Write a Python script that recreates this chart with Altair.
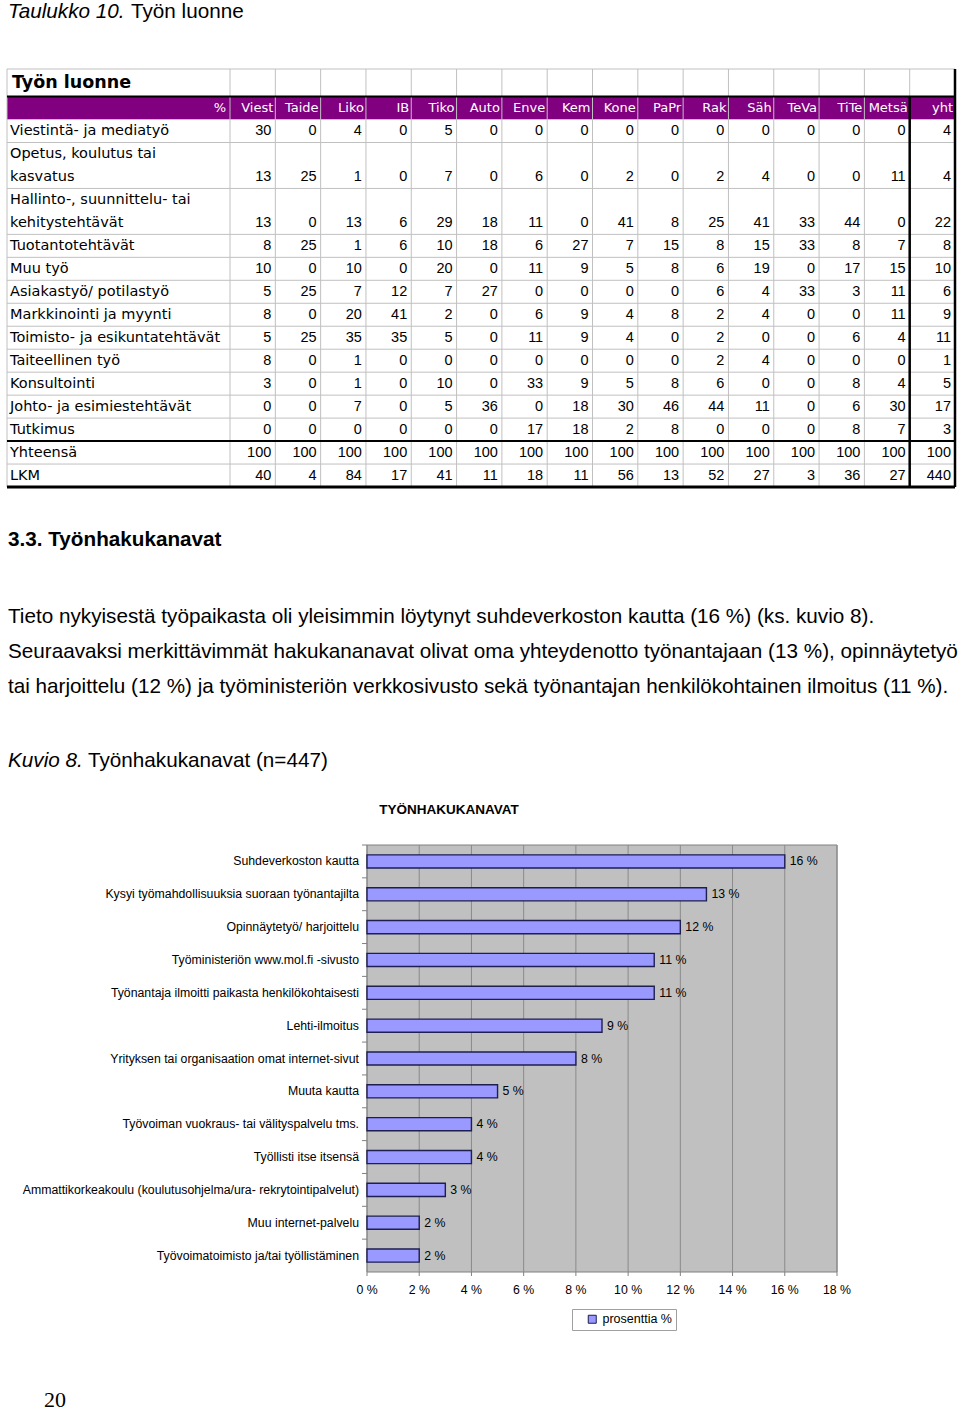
import altair as alt
import pandas as pd

# ------------------------------------------------------------------ data
# Table 10 "Työn luonne"
table_title = "Työn luonne"
table_corner = "%"
table_columns = ["Viest", "Taide", "Liko", "IB", "Tiko", "Auto", "Enve", "Kem",
                 "Kone", "PaPr", "Rak", "Säh", "TeVa", "TiTe", "Metsä", "yht"]
row_labels = [
    ["Viestintä- ja mediatyö"],
    ["Opetus, koulutus tai", "kasvatus"],
    ["Hallinto-, suunnittelu- tai", "kehitystehtävät"],
    ["Tuotantotehtävät"],
    ["Muu työ"],
    ["Asiakastyö/ potilastyö"],
    ["Markkinointi ja myynti"],
    ["Toimisto- ja esikuntatehtävät"],
    ["Taiteellinen työ"],
    ["Konsultointi"],
    ["Johto- ja esimiestehtävät"],
    ["Tutkimus"],
    ["Yhteensä"],
    ["LKM"],
]
row_values = [
    [30, 0, 4, 0, 5, 0, 0, 0, 0, 0, 0, 0, 0, 0, 0, 4],
    [13, 25, 1, 0, 7, 0, 6, 0, 2, 0, 2, 4, 0, 0, 11, 4],
    [13, 0, 13, 6, 29, 18, 11, 0, 41, 8, 25, 41, 33, 44, 0, 22],
    [8, 25, 1, 6, 10, 18, 6, 27, 7, 15, 8, 15, 33, 8, 7, 8],
    [10, 0, 10, 0, 20, 0, 11, 9, 5, 8, 6, 19, 0, 17, 15, 10],
    [5, 25, 7, 12, 7, 27, 0, 0, 0, 0, 6, 4, 33, 3, 11, 6],
    [8, 0, 20, 41, 2, 0, 6, 9, 4, 8, 2, 4, 0, 0, 11, 9],
    [5, 25, 35, 35, 5, 0, 11, 9, 4, 0, 2, 0, 0, 6, 4, 11],
    [8, 0, 1, 0, 0, 0, 0, 0, 0, 0, 2, 4, 0, 0, 0, 1],
    [3, 0, 1, 0, 10, 0, 33, 9, 5, 8, 6, 0, 0, 8, 4, 5],
    [0, 0, 7, 0, 5, 36, 0, 18, 30, 46, 44, 11, 0, 6, 30, 17],
    [0, 0, 0, 0, 0, 0, 17, 18, 2, 8, 0, 0, 0, 8, 7, 3],
    [100, 100, 100, 100, 100, 100, 100, 100, 100, 100, 100, 100, 100, 100, 100, 100],
    [40, 4, 84, 17, 41, 11, 18, 11, 56, 13, 52, 27, 3, 36, 27, 440],
]

# Figure 8 "Työnhakukanavat"
chart_title = "TYÖNHAKUKANAVAT"
channels = [
    "Suhdeverkoston kautta",
    "Kysyi työmahdollisuuksia suoraan työnantajilta",
    "Opinnäytetyö/ harjoittelu",
    "Työministeriön www.mol.fi -sivusto",
    "Työnantaja ilmoitti paikasta henkilökohtaisesti",
    "Lehti-ilmoitus",
    "Yrityksen tai organisaation omat internet-sivut",
    "Muuta kautta",
    "Työvoiman vuokraus- tai välityspalvelu tms.",
    "Työllisti itse itsensä",
    "Ammattikorkeakoulu (koulutusohjelma/ura- rekrytointipalvelut)",
    "Muu internet-palvelu",
    "Työvoimatoimisto ja/tai työllistäminen",
]
shares = [16, 13, 12, 11, 11, 9, 8, 5, 4, 4, 3, 2, 2]
x_ticks = [0, 2, 4, 6, 8, 10, 12, 14, 16, 18]
series_name = "prosenttia %"

# page text
caption_label = "Taulukko 10."
caption_text = "Työn luonne"
heading = "3.3. Työnhakukanavat"
paragraph = [
    "Tieto nykyisestä työpaikasta oli yleisimmin löytynyt suhdeverkoston kautta (16 %) (ks. kuvio 8).",
    "Seuraavaksi merkittävimmät hakukananavat olivat oma yhteydenotto työnantajaan (13 %), opinnäytetyö",
    "tai harjoittelu (12 %) ja työministeriön verkkosivusto sekä työnantajan henkilökohtainen ilmoitus (11 %).",
]
figure_label = "Kuvio 8."
figure_text = "Työnhakukanavat (n=447)"
page_number = "20"

# ------------------------------------------------------------------ layout / style
SANS = "Liberation Sans"
TSANS = "DejaVu Sans"
SERIF = "Liberation Serif"
PAGE_W, PAGE_H = 960, 1413
BODY = 20.7

T_LEFT, T_LABEL_R, T_RIGHT = 7, 230, 955
T_TOP, T_BOTTOM = 69, 487
TITLE_U = 1.2          # height of the title row in line units

P_LEFT, P_RIGHT = 367, 837
P_TOP, P_BOTTOM = 845, 1272
PAD_IN, PAD_OUT = 0.6, 0.3
STEP = (P_BOTTOM - P_TOP) / len(channels)

PURPLE = "#800080"
GRID = "#c0c0c0"
BAR_FILL = "#9999ff"
BAR_EDGE = "#1e1e50"
PLOT_BG = "#c0c0c0"
PLOT_GRID = "#8a8a8a"

# ------------------------------------------------------------------ table frames
line_rows, cell_rows, row_rows = [], [], []
u = TITLE_U + 1.0
for lab, vals in zip(row_labels, row_values):
    n = len(lab)
    for i, s in enumerate(lab):
        line_rows.append({"line": s, "yc": u + i + 0.5})
    for c, v in zip(table_columns, vals):
        cell_rows.append({"col": c, "val": str(v), "yc": u + n - 0.5})
    row_rows.append({"y0": u, "y1": u + n})
    u += n
TOTAL_U = u
total_row_top = row_rows[-2]["y0"]

lines_df = pd.DataFrame(line_rows)
cells_df = pd.DataFrame(cell_rows)

ty = alt.Scale(domain=[0, TOTAL_U], range=[T_TOP, T_BOTTOM], nice=False, zero=False)
tx = alt.Scale(domain=table_columns, range=[T_LABEL_R, T_RIGHT],
               paddingInner=0, paddingOuter=0)


def hrule(ys, color, width):
    return alt.Chart(pd.DataFrame({"y": ys})).mark_rule(
        color=color, strokeWidth=width).encode(
        y=alt.Y("y:Q", scale=ty, axis=None),
        x=alt.value(T_LEFT), x2=alt.value(T_RIGHT))


purple = alt.Chart(pd.DataFrame({"a": [TITLE_U], "b": [TITLE_U + 1.0]})).mark_rect(
    color=PURPLE).encode(
    y=alt.Y("a:Q", scale=ty, axis=None), y2="b:Q",
    x=alt.value(T_LEFT), x2=alt.value(T_RIGHT))

grey_h = hrule([0.0, TITLE_U + 1.0] + [r["y1"] for r in row_rows], GRID, 1)

vl_df = pd.DataFrame({"col": table_columns, "top": 0.0, "bot": TOTAL_U})
grey_v = alt.Chart(vl_df).mark_rule(color=GRID, strokeWidth=1).encode(
    x=alt.X("col:N", scale=tx, axis=None, bandPosition=0),
    y=alt.Y("top:Q", scale=ty, axis=None), y2="bot:Q")
left_border = alt.Chart(pd.DataFrame({"top": [0.0], "bot": [TOTAL_U]})).mark_rule(
    color=GRID, strokeWidth=1).encode(
    x=alt.value(T_LEFT), y=alt.Y("top:Q", scale=ty, axis=None), y2="bot:Q")

black_h1 = hrule([TITLE_U], "black", 2)
black_h2 = hrule([total_row_top], "black", 2)
black_h3 = hrule([TOTAL_U], "black", 3)

last_col = table_columns[-1:]
black_v1 = alt.Chart(pd.DataFrame({"col": last_col, "top": [TITLE_U], "bot": [TOTAL_U]})).mark_rule(
    color="black", strokeWidth=2.5).encode(
    x=alt.X("col:N", scale=tx, axis=None, bandPosition=0),
    y=alt.Y("top:Q", scale=ty, axis=None), y2="bot:Q")
black_v2 = alt.Chart(pd.DataFrame({"col": last_col, "top": [0.0], "bot": [TOTAL_U]})).mark_rule(
    color="black", strokeWidth=2.5).encode(
    x=alt.X("col:N", scale=tx, axis=None, bandPosition=1),
    y=alt.Y("top:Q", scale=ty, axis=None), y2="bot:Q")

title_txt = alt.Chart(pd.DataFrame({"t": [table_title], "yc": [TITLE_U / 2]})).mark_text(
    font=TSANS, fontSize=17.5, fontWeight="bold", align="left", baseline="middle",
    color="black").encode(
    text="t:N", x=alt.value(12), y=alt.Y("yc:Q", scale=ty, axis=None))

corner_txt = alt.Chart(pd.DataFrame({"t": [table_corner], "yc": [TITLE_U + 0.5]})).mark_text(
    font=TSANS, fontSize=13, align="right", baseline="middle", color="white").encode(
    text="t:N", x=alt.value(T_LABEL_R - 4), y=alt.Y("yc:Q", scale=ty, axis=None))

head_txt = alt.Chart(pd.DataFrame({"col": table_columns, "yc": TITLE_U + 0.5})).mark_text(
    font=TSANS, fontSize=13, align="right", baseline="middle", color="white", dx=-2).encode(
    text="col:N",
    x=alt.X("col:N", scale=tx, axis=None, bandPosition=1),
    y=alt.Y("yc:Q", scale=ty, axis=None))

label_txt = alt.Chart(lines_df).mark_text(
    font=TSANS, fontSize=14.5, align="left", baseline="middle", color="black").encode(
    text="line:N", x=alt.value(10), y=alt.Y("yc:Q", scale=ty, axis=None))

value_txt = alt.Chart(cells_df).mark_text(
    font=SANS, fontSize=14.5, align="right", baseline="middle", color="black", dx=-4).encode(
    text="val:N",
    x=alt.X("col:N", scale=tx, axis=None, bandPosition=1),
    y=alt.Y("yc:Q", scale=ty, axis=None))

table = alt.layer(purple, grey_h, grey_v, left_border, black_h1, black_h2, black_h3,
                  black_v1, black_v2, title_txt, corner_txt, head_txt, label_txt, value_txt)

# ------------------------------------------------------------------ bar chart
bx = alt.Scale(domain=[x_ticks[0], x_ticks[-1]], range=[P_LEFT, P_RIGHT], nice=False, zero=False)
by = alt.Scale(domain=channels, range=[P_TOP, P_BOTTOM], paddingInner=PAD_IN, paddingOuter=PAD_OUT)

bar_df = pd.DataFrame({"channel": channels, "share": shares,
                       "label": [f"{v} %" for v in shares], "series": series_name})
tick_df = pd.DataFrame({"t": x_ticks, "label": [f"{v} %" for v in x_ticks]})

plot_bg = alt.Chart(pd.DataFrame({"lo": [x_ticks[0]], "hi": [x_ticks[-1]]})).mark_rect(
    fill=PLOT_BG, stroke="#808080", strokeWidth=1).encode(
    x=alt.X("lo:Q", scale=bx, axis=None), x2="hi:Q",
    y=alt.value(P_TOP), y2=alt.value(P_BOTTOM))

plot_grid = alt.Chart(tick_df).mark_rule(color=PLOT_GRID, strokeWidth=1).encode(
    x=alt.X("t:Q", scale=bx, axis=None), y=alt.value(P_TOP), y2=alt.value(P_BOTTOM))

x_tick_marks = alt.Chart(tick_df).mark_rule(color="#808080", strokeWidth=1).encode(
    x=alt.X("t:Q", scale=bx, axis=None), y=alt.value(P_BOTTOM), y2=alt.value(P_BOTTOM + 4))

# category-slot boundary ticks on the left edge (slot start = band start - half inner padding)
y_tick_marks = alt.Chart(bar_df).mark_rule(
    color="#808080", strokeWidth=1, yOffset=-PAD_IN * STEP / 2).encode(
    y=alt.Y("channel:N", scale=by, axis=None, bandPosition=0),
    x=alt.value(P_LEFT - 5), x2=alt.value(P_LEFT))

bars = alt.Chart(bar_df).mark_bar(stroke=BAR_EDGE, strokeWidth=1.4).encode(
    x=alt.X("share:Q", scale=bx, axis=None),
    y=alt.Y("channel:N", scale=by, axis=None),
    color=alt.Color("series:N",
                    scale=alt.Scale(domain=[series_name], range=[BAR_FILL]),
                    legend=alt.Legend(title=None, orient="none", legendX=572, legendY=1309,
                                      symbolType="square", symbolSize=64,
                                      symbolStrokeColor=BAR_EDGE, symbolStrokeWidth=1,
                                      symbolOffset=10,
                                      labelFont=SANS, labelFontSize=12.5, labelColor="black",
                                      strokeColor="#a0a0a0", fillColor="white", padding=4)))

bar_labels = alt.Chart(bar_df).mark_text(
    font=SANS, fontSize=12.3, align="left", baseline="middle", color="black", dx=5).encode(
    x=alt.X("share:Q", scale=bx, axis=None),
    y=alt.Y("channel:N", scale=by, axis=None), text="label:N")

cat_labels = alt.Chart(bar_df).mark_text(
    font=SANS, fontSize=12.3, align="right", baseline="middle", color="black").encode(
    x=alt.value(P_LEFT - 8),
    y=alt.Y("channel:N", scale=by, axis=None), text="channel:N")

x_labels = alt.Chart(tick_df).mark_text(
    font=SANS, fontSize=12.3, align="center", baseline="middle", color="black").encode(
    x=alt.X("t:Q", scale=bx, axis=None), y=alt.value(P_BOTTOM + 18), text="label:N")

barchart = alt.layer(plot_bg, plot_grid, x_tick_marks, y_tick_marks, bars,
                     bar_labels, cat_labels, x_labels)


# ------------------------------------------------------------------ page text
def txt(s, x, y, size, font=SANS, weight="normal", style="normal",
        align="left", baseline="alphabetic"):
    return alt.Chart(pd.DataFrame({"t": [s]})).mark_text(
        font=font, fontSize=size, fontWeight=weight, fontStyle=style,
        align=align, baseline=baseline, color="black").encode(
        text="t:N", x=alt.value(x), y=alt.value(y))


page_texts = [
    txt(caption_label, 8, 18, BODY, style="italic"),
    txt(caption_text, 131, 18, BODY),
    txt(heading, 8, 546, BODY, weight="bold"),
    txt(paragraph[0], 8, 623, BODY),
    txt(paragraph[1], 8, 658, BODY),
    txt(paragraph[2], 8, 693, BODY),
    txt(figure_label, 8, 767, BODY, style="italic"),
    txt(figure_text, 88, 767, BODY),
    txt(chart_title, 449, 810, 13.5, weight="bold", align="center", baseline="middle"),
    txt(page_number, 44, 1407, 22, font=SERIF),
]

chart = alt.layer(*page_texts, table, barchart).resolve_scale(
    x="independent", y="independent").properties(
    width=PAGE_W, height=PAGE_H, padding=0,
    autosize=alt.AutoSizeParams(type="none"),
    background="white").configure_view(stroke=None)

chart.save("out.html", embed_options={"renderer": "svg", "actions": False})
